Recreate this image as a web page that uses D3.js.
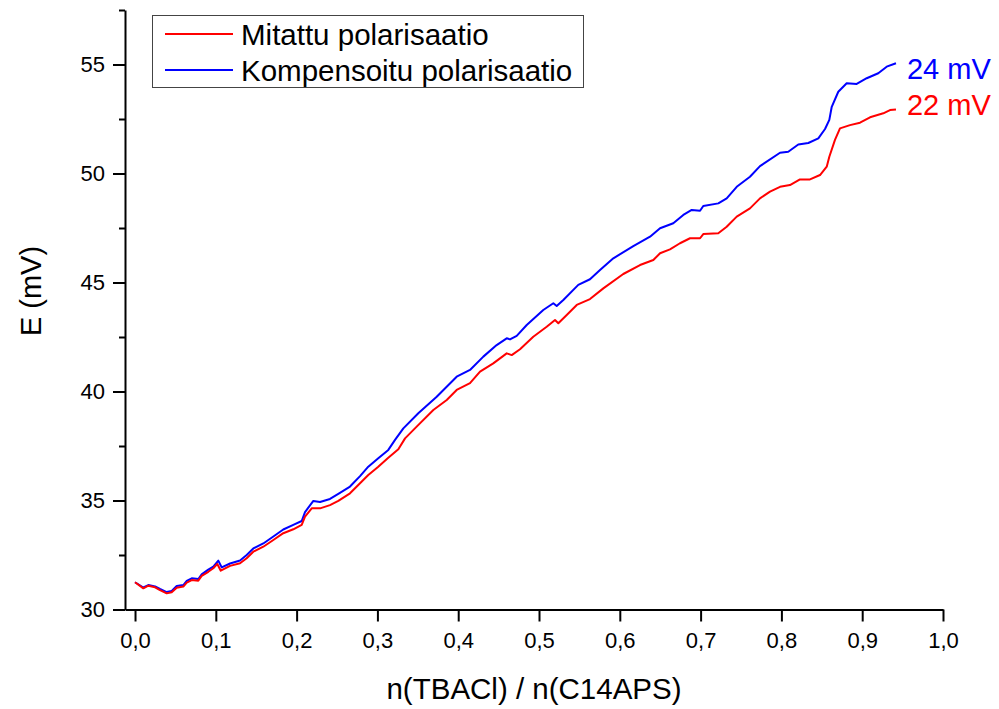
<!DOCTYPE html>
<html>
<head>
<meta charset="utf-8">
<script src="https://cdn.jsdelivr.net/npm/d3@7"></script>
<style>
  html, body { margin: 0; padding: 0; background: #fff; }
  svg { display: block; font-family: "Liberation Sans", Arial, sans-serif; }
</style>
</head>
<body>
<svg id="chart" width="999" height="709"></svg>
<script>
// Titration curves: potential E (mV) against the mole ratio n(TBACl) / n(C14APS)
const seriesNames = ["Mitattu polarisaatio", "Kompensoitu polarisaatio"];
const seriesColors = ["#ff0000", "#0000ff"];

const measuredX = [0, 0.0103, 0.0165, 0.0248, 0.0309, 0.0392, 0.0454, 0.0516, 0.0598, 0.0640,
  0.0702, 0.0783, 0.0825, 0.0907, 0.0969, 0.1019, 0.1061, 0.1176, 0.1300, 0.1382,
  0.1464, 0.1588, 0.1712, 0.1835, 0.1959, 0.2063, 0.2104, 0.2187, 0.2290, 0.2413,
  0.2516, 0.2661, 0.2785, 0.2887, 0.3007, 0.3131, 0.3259, 0.3342, 0.3486, 0.3692,
  0.3858, 0.3981, 0.4146, 0.4270, 0.4434, 0.4600, 0.4662, 0.4765, 0.4929, 0.5095,
  0.5198, 0.5239, 0.5343, 0.5467, 0.5631, 0.5796, 0.6043, 0.6250, 0.6415, 0.6498,
  0.6621, 0.6745, 0.6869, 0.6993, 0.7033, 0.7219, 0.7323, 0.7447, 0.7611, 0.7735,
  0.7859, 0.7983, 0.8106, 0.8230, 0.8354, 0.8478, 0.8561, 0.8593, 0.8663, 0.8725,
  0.8849, 0.8973, 0.9097, 0.9261, 0.9344, 0.9418];
const measuredE = [31.25, 30.97, 31.09, 31.02, 30.89, 30.74, 30.79, 31.00, 31.05, 31.23,
  31.35, 31.32, 31.54, 31.73, 31.89, 32.09, 31.78, 32.00, 32.12, 32.35,
  32.65, 32.88, 33.19, 33.50, 33.68, 33.88, 34.26, 34.64, 34.64, 34.79,
  34.98, 35.33, 35.79, 36.17, 36.54, 36.95, 37.35, 37.85, 38.39, 39.15,
  39.61, 40.07, 40.38, 40.91, 41.29, 41.75, 41.67, 41.94, 42.51, 42.97,
  43.28, 43.13, 43.51, 43.97, 44.24, 44.73, 45.39, 45.80, 46.03, 46.34,
  46.52, 46.80, 47.03, 47.03, 47.22, 47.26, 47.56, 48.02, 48.40, 48.86,
  49.17, 49.39, 49.47, 49.73, 49.73, 49.93, 50.31, 50.77, 51.54, 52.07,
  52.22, 52.33, 52.58, 52.76, 52.91, 52.94];

const compensatedX = [0, 0.0103, 0.0165, 0.0248, 0.0309, 0.0392, 0.0454, 0.0516, 0.0598, 0.0640,
  0.0702, 0.0783, 0.0825, 0.0907, 0.0969, 0.1031, 0.1073, 0.1176, 0.1300, 0.1382,
  0.1464, 0.1588, 0.1712, 0.1835, 0.1959, 0.2063, 0.2104, 0.2207, 0.2290, 0.2413,
  0.2516, 0.2661, 0.2785, 0.2887, 0.3007, 0.3135, 0.3218, 0.3321, 0.3506, 0.3734,
  0.3981, 0.4146, 0.4311, 0.4476, 0.4600, 0.4641, 0.4724, 0.4848, 0.5053, 0.5177,
  0.5219, 0.5301, 0.5486, 0.5631, 0.5755, 0.5920, 0.6167, 0.6374, 0.6498, 0.6662,
  0.6786, 0.6890, 0.6993, 0.7033, 0.7219, 0.7323, 0.7447, 0.7611, 0.7735, 0.7983,
  0.8085, 0.8209, 0.8333, 0.8457, 0.8540, 0.8593, 0.8623, 0.8704, 0.8808, 0.8932,
  0.9056, 0.9199, 0.9303, 0.9418];
const compensatedE = [31.25, 31.01, 31.12, 31.06, 30.94, 30.80, 30.85, 31.08, 31.12, 31.31,
  31.43, 31.40, 31.61, 31.83, 31.97, 32.24, 31.93, 32.11, 32.25, 32.50,
  32.80, 33.03, 33.35, 33.67, 33.88, 34.06, 34.47, 34.98, 34.93, 35.07,
  35.30, 35.64, 36.12, 36.55, 36.93, 37.32, 37.78, 38.31, 39.00, 39.76,
  40.68, 40.99, 41.60, 42.13, 42.44, 42.39, 42.55, 43.05, 43.74, 44.05,
  43.92, 44.20, 44.89, 45.15, 45.57, 46.11, 46.67, 47.10, 47.49, 47.72,
  48.10, 48.33, 48.29, 48.51, 48.63, 48.86, 49.39, 49.85, 50.34, 50.95,
  51.00, 51.33, 51.40, 51.61, 52.04, 52.46, 53.06, 53.75, 54.14, 54.11,
  54.37, 54.60, 54.90, 55.06];

const xMajorTicks = [0, 0.1, 0.2, 0.3, 0.4, 0.5, 0.6, 0.7, 0.8, 0.9, 1.0];
const yMajorTicks = [30, 35, 40, 45, 50, 55];
const yMinorTicks = [32.5, 37.5, 42.5, 47.5, 52.5, 57.5];
const xTitle = "n(TBACl) / n(C14APS)";
const yTitle = "E (mV)";

const svg = d3.select("#chart");

const x = d3.scaleLinear().domain([-0.0124, 1.0]).range([125, 943]);
const y = d3.scaleLinear().domain([30, 57.5]).range([609.5, 10]);

const fiLocale = d3.formatLocale({ decimal: ",", thousands: " ", grouping: [3], currency: ["", " €"] });
const fmtX = fiLocale.format(".1f");

// minor ticks on the left axis
svg.append("g")
  .attr("transform", `translate(${x.range()[0]},0)`)
  .call(d3.axisLeft(y).tickValues(yMinorTicks).tickSize(6).tickSizeOuter(0).tickFormat(""))
  .call(g => g.select(".domain").remove())
  .call(g => g.selectAll("line").attr("stroke", "#000").attr("stroke-width", 2));

// left axis
svg.append("g")
  .attr("transform", `translate(${x.range()[0]},0)`)
  .call(d3.axisLeft(y).tickValues(yMajorTicks).tickSize(12).tickSizeOuter(0).tickPadding(8).tickFormat(d3.format("d")))
  .call(g => g.select(".domain").attr("stroke", "#000").attr("stroke-width", 2))
  .call(g => g.selectAll("line").attr("stroke", "#000").attr("stroke-width", 2))
  .call(g => g.selectAll("text").attr("font-size", 22).attr("fill", "#000")
    .attr("font-family", '"Liberation Sans", Arial, sans-serif'));

// bottom axis
svg.append("g")
  .attr("transform", `translate(0,${y.range()[0]})`)
  .call(d3.axisBottom(x).tickValues(xMajorTicks).tickSize(12).tickSizeOuter(0).tickPadding(11).tickFormat(fmtX))
  .call(g => g.select(".domain").attr("stroke", "#000").attr("stroke-width", 2))
  .call(g => g.selectAll("line").attr("stroke", "#000").attr("stroke-width", 2))
  .call(g => g.selectAll("text").attr("font-size", 22).attr("fill", "#000")
    .attr("font-family", '"Liberation Sans", Arial, sans-serif'));

// axis titles
svg.append("text")
  .attr("x", (x.range()[0] + x.range()[1]) / 2)
  .attr("y", 699)
  .attr("text-anchor", "middle")
  .attr("font-size", 29.5)
  .text(xTitle);

svg.append("text")
  .attr("transform", "translate(41,291) rotate(-90)")
  .attr("text-anchor", "middle")
  .attr("font-size", 29)
  .text(yTitle);

// curves
const series = [
  { name: seriesNames[1], color: seriesColors[1], xs: compensatedX, ys: compensatedE },
  { name: seriesNames[0], color: seriesColors[0], xs: measuredX, ys: measuredE }
];
const line = d3.line().x(d => x(d[0])).y(d => y(d[1]));

series.forEach(s => {
  const pts = s.xs.map((v, i) => [v, s.ys[i]]);
  svg.append("path")
    .datum(pts)
    .attr("fill", "none")
    .attr("stroke", s.color)
    .attr("stroke-width", 2)
    .attr("stroke-linejoin", "round")
    .attr("d", line);
});

// total potential change at the end of each curve
const endLabels = [
  { xs: compensatedX, ys: compensatedE, color: seriesColors[1], dy: 16 },
  { xs: measuredX, ys: measuredE, color: seriesColors[0], dy: 6 }
];
endLabels.forEach(l => {
  const n = l.ys.length;
  const delta = Math.round(l.ys[n - 1] - l.ys[0]);
  svg.append("text")
    .attr("x", x(l.xs[n - 1]) + 11)
    .attr("y", y(l.ys[n - 1]) + l.dy)
    .attr("fill", l.color)
    .attr("font-size", 29)
    .text(`${delta} mV`);
});

// legend
const legend = svg.append("g");
legend.append("rect")
  .attr("x", 152.5).attr("y", 15.5)
  .attr("width", 431).attr("height", 72)
  .attr("fill", "#fff")
  .attr("stroke", "#444")
  .attr("stroke-width", 1);
seriesNames.forEach((name, i) => {
  const cy = 34 + i * 36;
  legend.append("line")
    .attr("x1", 165).attr("x2", 233)
    .attr("y1", cy).attr("y2", cy)
    .attr("stroke", seriesColors[i])
    .attr("stroke-width", 2);
  legend.append("text")
    .attr("x", 241)
    .attr("y", cy + 10.5)
    .attr("font-size", 29.5)
    .attr("fill", "#000")
    .text(name);
});
</script>
</body>
</html>
